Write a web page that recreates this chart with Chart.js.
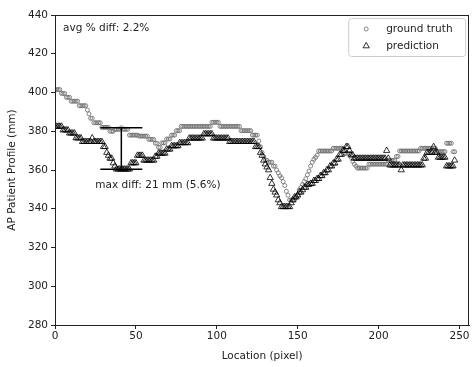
<!DOCTYPE html>
<html><head><meta charset="utf-8">
<script src="https://cdn.jsdelivr.net/npm/chart.js@4/dist/chart.umd.min.js"></script>
<style>html,body{margin:0;padding:0;background:#fff}#wrap{width:474px;height:367px}</style>
</head><body><div id="wrap"><canvas id="c" width="474" height="367"></canvas></div>
<script>
const groundTruth = [
401.5,401.5,401.5,401.5,399.5,399.5,399.5,397.5,397.5,397.5,
395.5,395.5,395.5,395.5,395.5,393.2,393.2,393.2,393.2,393.2,
391,389,386.7,386.7,384.4,384.4,384.4,384.4,384.4,382,
382,382,382,382,380,380,380,381,381,381,
381,381.8,381,381,381,381,378,378,378,378,
378,378,377.5,377.5,377.5,377.5,377.5,377.5,375.8,375.8,
375.8,375.8,373.8,373.8,371.7,371.7,374,374,374,376,
376,376,378,378,378,380.3,380.3,380.3,382.5,382.5,
382.5,382.5,382.5,382.5,382.5,382.5,382.5,382.5,382.5,382.5,
382.5,382.5,382.5,382.5,382.5,382.5,382.5,384.6,384.6,384.6,
384.6,384.6,382.5,382.5,382.5,382.5,382.5,382.5,382.5,382.5,
382.5,382.5,382.5,382.5,382.5,380.3,380.3,380.3,380.3,380.3,
380.3,380.3,378,378,378,378,375,372,369,367,
365,365,364,364,364,362,362,360,358.5,357,
356,354,352,349,347,344.5,344.5,344.5,344.5,346,
347,349.7,351,352.5,354,355.5,357.5,359.5,362,364,
365.5,366.5,367.7,369.8,369.8,369.8,369.8,369.8,369.8,369.8,
369.8,369.8,371.2,371.2,371.2,371.2,371.2,371.2,371.2,368.6,
368.6,368.6,368.6,366.5,364.5,363,362,361,361,361,
361,361,361,361,363,363,363,363,363,363,
363,363,363,363,363,363,365,365,365,365,
365,367,367,369.8,369.8,369.8,369.8,369.8,369.8,369.8,
369.8,369.8,369.8,369.8,369.8,369.8,371.2,371.2,371.2,371.2,
371.2,371.2,371.2,371.2,371.2,371.2,369.5,369.5,369.5,369.5,
369.5,369.5,373.8,373.8,373.8,373.8,369.4,369.4
];
const prediction = [
382.5,382.5,382.5,382.5,382.5,380.6,380.6,380.6,380.6,379,
379,379,379,376.5,376.5,376.5,376.5,374.6,374.6,374.6,
374.6,374.6,374.6,376.5,374.6,374.6,374.6,374.6,374.6,374.6,
372,372,369,367.5,366,366,363.6,362,360.4,360.4,
360.4,360.4,360.4,360.4,360.4,360.4,360.4,363.6,363.6,363.6,
363.6,367.5,367.5,367.5,367.5,365,365,365,365,365,
365,365,367,367,368.6,368.6,368.6,368.6,368.6,370.7,
370.7,370.7,372.4,372.4,372.4,372.4,372.4,374,374,374,
374,374,374,376.4,376.4,376.4,376.4,376.4,376.4,376.4,
376.4,376.4,378.6,378.6,378.6,378.6,378.6,378.6,376.4,376.4,
376.4,376.4,376.4,376.4,376.4,376.4,376.4,376.4,374.6,374.6,
374.6,374.6,374.6,374.6,374.6,374.6,374.6,374.6,374.6,374.6,
374.6,374.6,374.6,374.6,372,372,372,369,367.5,365,
363,361.5,360,356,353,350,348.5,347,344.5,343,
341,341,341,341,341,341,343,344.5,346,346,
347,348.5,348.5,349.7,351,351,352.5,352.5,353,353,
354.5,354.5,355.5,355.5,357,357,358.5,358.5,360,360,
362,362,363.5,363.5,365.5,365.5,368,368,370,370,
372,372,370,367.7,367.7,366,366,366,366,366,
366,366,366,366,366,366,366,366,366,366,
366,366,366,366,366,370,366,362.5,362.5,362.5,
362.5,362.5,362.5,362.5,360,362.5,362.5,362.5,362.5,362.5,
362.5,362.5,362.5,362.5,362.5,362.5,362.5,362.5,366,366,
369,369,369,369,372,369,369,366.5,366.5,366.5,
366.5,366.5,362,362,362,362,362,365
];
const locations = groundTruth.map((_, i) => i);
const xTicks = [0, 50, 100, 150, 200, 250];
const yTicks = [280, 300, 320, 340, 360, 380, 400, 420, 440];
const seriesNames = ['ground truth', 'prediction'];
const avgLabel = 'avg % diff: 2.2%';
const maxLabel = 'max diff: 21 mm (5.6%)';

const FONT = {family: 'DejaVu Sans', size: 10.5};
const TXT = '#222';

const framePlugin = {
  id: 'frame',
  afterDraw(chart) {
    const {ctx, chartArea: a, scales} = chart;
    const xs = scales.x, ys = scales.y;
    ctx.save();
    // error bar at max difference
    let idx = 0, best = -1;
    groundTruth.forEach((g, i) => { const d = Math.abs(g - prediction[i]); if (d > best) { best = d; idx = i; } });
    const bx = xs.getPixelForValue(locations[idx]);
    const yTop = ys.getPixelForValue(groundTruth[idx]);
    const yBot = ys.getPixelForValue(prediction[idx]);
    ctx.strokeStyle = '#000'; ctx.lineWidth = 1.5;
    ctx.beginPath();
    ctx.moveTo(bx, yTop); ctx.lineTo(bx, yBot);
    ctx.moveTo(bx - 21, yTop); ctx.lineTo(bx + 21, yTop);
    ctx.moveTo(bx - 21, yBot); ctx.lineTo(bx + 21, yBot);
    ctx.stroke();
    ctx.fillStyle = TXT;
    ctx.font = `${FONT.size}px ${FONT.family}`;
    ctx.textBaseline = 'middle'; ctx.textAlign = 'left';
    ctx.fillText(maxLabel, bx - 26, yBot + 16);
    ctx.fillText(avgLabel, a.left + 8, a.top + 13);
    // frame
    ctx.strokeStyle = '#222'; ctx.lineWidth = 1;
    ctx.strokeRect(Math.round(a.left) + 0.5, Math.round(a.top) + 0.5, Math.round(a.right - a.left) - 1, Math.round(a.bottom - a.top));
    // legend
    const lw = 117, lh = 38;
    const lx = a.right - lw - 4, ly = a.top + 3;
    ctx.fillStyle = 'rgba(255,255,255,0.8)';
    ctx.strokeStyle = '#ccc'; ctx.lineWidth = 1;
    ctx.beginPath();
    ctx.roundRect(lx + 0.5, ly + 0.5, lw, lh, 3);
    ctx.fill(); ctx.stroke();
    chart.data.datasets.forEach((ds, i) => {
      const yy = ly + 11 + i * 17;
      const mx = lx + 18;
      ctx.strokeStyle = ds.borderColor; ctx.lineWidth = ds.borderWidth;
      ctx.fillStyle = ds.backgroundColor;
      Chart.helpers.drawPoint(ctx, {pointStyle: ds.pointStyle, radius: ds.pointRadius, borderWidth: ds.borderWidth, rotation: 0}, mx, yy);
      ctx.fillStyle = TXT;
      ctx.fillText(ds.label, lx + 38, yy);
    });
    ctx.restore();
  }
};

new Chart(document.getElementById('c'), {
  type: 'scatter',
  data: {
    datasets: [
      {label: seriesNames[0], data: locations.map((x, i) => ({x, y: groundTruth[i]})),
       pointStyle: 'circle', pointRadius: 2, borderColor: '#6a6a6a', borderWidth: 0.8,
       backgroundColor: 'rgba(255,255,255,0)', showLine: false, order: 2},
      {label: seriesNames[1], data: locations.map((x, i) => ({x, y: prediction[i]})),
       pointStyle: 'triangle', pointRadius: 3.6, borderColor: '#000', borderWidth: 0.8,
       backgroundColor: 'rgba(255,255,255,0)', showLine: false, order: 1}
    ]
  },
  options: {
    responsive: false, animation: false, devicePixelRatio: 1,
    layout: {padding: {left: 0, right: 2, top: 15, bottom: 4}},
    plugins: {legend: {display: false}, tooltip: {enabled: false}},
    scales: {
      x: {
        type: 'linear', min: 0, max: 256,
        afterBuildTicks: s => { s.ticks = xTicks.map(v => ({value: v})); },
        afterFit: s => { s.height = 38; },
        ticks: {font: FONT, color: TXT, padding: 1, maxRotation: 0},
        grid: {display: true, drawOnChartArea: false, drawTicks: true, tickLength: 4, color: '#222'},
        border: {display: true, color: '#222'},
        title: {display: true, text: 'Location (pixel)', font: FONT, color: TXT, padding: {top: 1, bottom: 0}}
      },
      y: {
        type: 'linear', min: 280, max: 440,
        afterBuildTicks: s => { s.ticks = yTicks.map(v => ({value: v})); },
        afterFit: s => { s.width = 55; },
        ticks: {font: FONT, color: TXT, padding: 3},
        grid: {display: true, drawOnChartArea: false, drawTicks: true, tickLength: 4, color: '#222'},
        border: {display: true, color: '#222'},
        title: {display: true, text: 'AP Patient Profile (mm)', font: FONT, color: TXT, padding: {top: 6, bottom: 2}}
      }
    }
  },
  plugins: [framePlugin]
});
</script></body></html>
